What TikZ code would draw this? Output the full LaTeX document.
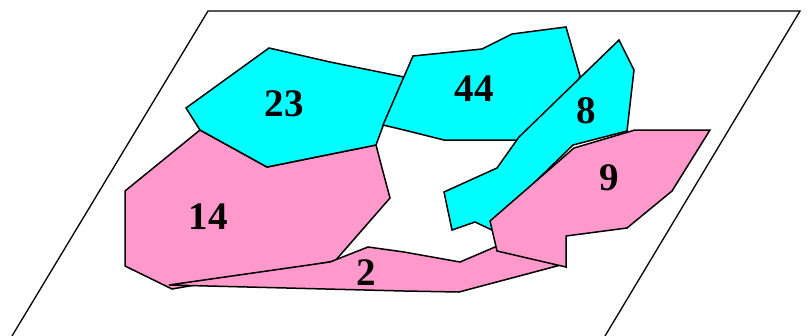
\documentclass[tikz,border=0pt]{standalone}
\usepackage{fontspec}
\setmainfont{Liberation Serif}
\definecolor{regcyan}{RGB}{0,255,255}
\definecolor{regpink}{RGB}{255,153,204}
\begin{document}
\begin{tikzpicture}[x=1pt,y=-1pt,
  region/.style={draw=black,line width=1.5pt,line join=miter},
  cyanreg/.style={region,fill=regcyan},
  pinkreg/.style={region,fill=regpink},
  plane/.style={draw=black,line width=1.3pt},
  lab/.style={font=\bfseries\fontsize{39}{39}\selectfont,inner sep=0pt}]
\useasboundingbox (0,0) rectangle (808,335);
% plane
\draw[plane] (12,336) -- (208,11) -- (800,11) -- (605,336);
% region 14
\path[pinkreg] (200,130) -- (267,167) -- (376,145) -- (382,168) -- (390,198) -- (335,261) -- (172,289) -- (125,266) -- (125,191) -- cycle;
% region 2
\path[pinkreg] (169,285) -- (330,262) -- (368,247) -- (404,252) -- (460,262) -- (495,247) -- (530,250) -- (557,266) -- (459,292) -- (404,291) -- cycle;
% region 23
\path[cyanreg] (269,48) -- (330,62) -- (404,77) -- (383,126) -- (376,145) -- (267,167) -- (200,130) -- (186,108) -- cycle;
% region 44
\path[cyanreg] (413,56) -- (482,49) -- (512,34) -- (566,27) -- (580,76) -- (560,120) -- (530,140) -- (444,140) -- (404,130) -- (383,125) -- cycle;
% region 8
\path[cyanreg] (619,40) -- (634,70) -- (627,131) -- (573,145) -- (492,224) -- (492,230) -- (475,222) -- (452,230) -- (444,192) -- (497,168) -- (519,137) -- cycle;
% region 9
\path[pinkreg] (490,221) -- (497,251) -- (566,267) -- (566,236) -- (627,228) -- (672,191) -- (710,130) -- (635,130) -- (574,148) -- cycle;
% labels
\node[lab] (l23) at (284,104) {23};
\node[lab] (l44) at (474,89) {44};
\node[lab] (l8) at (586,111) {8};
\node[lab] (l9) at (609,178) {9};
\node[lab] (l14) at (208,217) {14};
\node[lab] (l2) at (366,273) {2};
\end{tikzpicture}
\end{document}
